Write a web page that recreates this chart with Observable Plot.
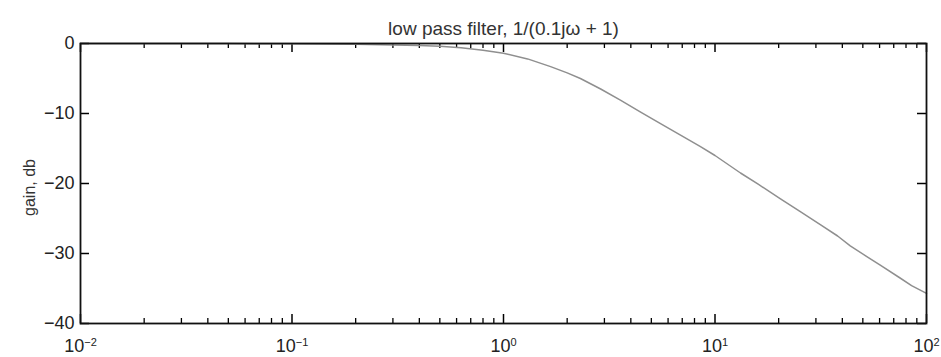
<!DOCTYPE html>
<html>
<head>
<meta charset="utf-8">
<script src="https://cdn.jsdelivr.net/npm/d3@7"></script>
<script src="https://cdn.jsdelivr.net/npm/@observablehq/plot@0.6"></script>
<style>
  html, body { margin: 0; padding: 0; background: #fff; }
  svg { display: block; }
</style>
</head>
<body>
<div id="chart"></div>
<script>
const titleText = "low pass filter, 1/(0.1jω + 1)";
const yLabel = "gain, db";

// frequency (rad/s) and gain (dB)
const omega = [0.01, 0.05, 0.1, 0.2, 0.3, 0.4, 0.5, 0.63, 0.8, 1.0, 1.3, 1.67, 2.0, 2.31, 2.88, 3.57, 4.45, 5.5, 6.87, 8.5, 10, 13.2, 16, 20.4, 25, 31.6, 38, 43.6, 52, 60.7, 75, 85, 100];
const gainDb = [0, -0.01, -0.03, -0.1, -0.2, -0.3, -0.4, -0.6, -0.95, -1.4, -2.2, -3.3, -4.2, -5.0, -6.5, -8.1, -9.8, -11.4, -13.1, -14.7, -16.0, -18.5, -20.1, -22.2, -23.9, -25.9, -27.5, -28.9, -30.4, -31.7, -33.5, -34.6, -35.7];

const xMajorTicks = [0.01, 0.1, 1, 10, 100];
const xTickBase = "10";
const xTickExp = ["−2", "−1", "0", "1", "2"];
const xMinorMultipliers = [2, 3, 4, 5, 6, 7, 8, 9];
const xMinorTicks = [];
for (const d of xMajorTicks.slice(0, -1)) for (const m of xMinorMultipliers) xMinorTicks.push(+(d * m).toPrecision(3));
const yTicks = [-40, -30, -20, -10, 0];

const data = omega.map((w, i) => ({w, g: gainDb[i]}));

const W = 941, H = 357;
const mL = 80, mR = 15, mT = 43, mB = 34;
const fw = W - mL - mR, fh = H - mT - mB;
const majLen = 9, minLen = 5;

const chart = Plot.plot({
  width: W, height: H,
  marginLeft: mL, marginRight: mR, marginTop: mT, marginBottom: mB,
  style: {fontFamily: "'Liberation Sans', Arial, sans-serif", fontSize: "18px", color: "#222", background: "#fff"},
  x: {type: "log", domain: [0.01, 100]},
  y: {domain: [-40, 0]},
  marks: [
    Plot.axisX({ticks: xMajorTicks, tickSize: 0, tickPadding: 16, tickFormat: (d) => "X" + xMajorTicks.indexOf(d), label: null, fontSize: 18}),
    Plot.axisY({ticks: yTicks, tickSize: 0, tickPadding: 6, tickFormat: d => d === 0 ? "0" : "−" + Math.abs(d), label: null, fontSize: 18}),
    // inward ticks
    Plot.ruleX(xMinorTicks, {x: d => d, insetTop: fh - minLen, stroke: "#000", strokeWidth: 1.3}),
    Plot.ruleX(xMinorTicks, {x: d => d, insetBottom: fh - minLen, stroke: "#000", strokeWidth: 1.3}),
    Plot.ruleX(xMajorTicks, {x: d => d, insetTop: fh - majLen, stroke: "#000", strokeWidth: 1.5}),
    Plot.ruleX(xMajorTicks, {x: d => d, insetBottom: fh - majLen, stroke: "#000", strokeWidth: 1.5}),
    Plot.ruleY(yTicks, {y: d => d, insetRight: fw - majLen, stroke: "#000", strokeWidth: 1.5}),
    Plot.ruleY(yTicks, {y: d => d, insetLeft: fw - majLen, stroke: "#000", strokeWidth: 1.5}),
    Plot.line(data, {x: "w", y: "g", stroke: "#8f8f8f", strokeWidth: 1.5}),
    Plot.frame({stroke: "#111", strokeWidth: 1.8}),
    Plot.text([titleText], {frameAnchor: "top", dy: -22, text: d => d, fontSize: 19, fill: "#333", letterSpacing: "0.6px"}),
    Plot.text([yLabel], {frameAnchor: "left", textAnchor: "middle", dx: -51, dy: 4, rotate: -90, text: d => d, fontSize: 16, fill: "#333"})
  ]
});

// turn the x tick labels into 10 with a superscript exponent
chart.querySelectorAll('g[aria-label="x-axis tick label"] text').forEach(t => {
  const txt = t.textContent;
  if (!txt.startsWith("X")) return;
  const i = +txt.slice(1);
  t.textContent = "";
  const ns = "http://www.w3.org/2000/svg";
  const base = document.createElementNS(ns, "tspan");
  base.textContent = xTickBase;
  const sup = document.createElementNS(ns, "tspan");
  sup.textContent = xTickExp[i];
  sup.setAttribute("font-size", "11");
  sup.setAttribute("dy", "-0.55em");
  t.appendChild(base);
  t.appendChild(sup);
});
document.getElementById("chart").appendChild(chart);
</script>
</body>
</html>
